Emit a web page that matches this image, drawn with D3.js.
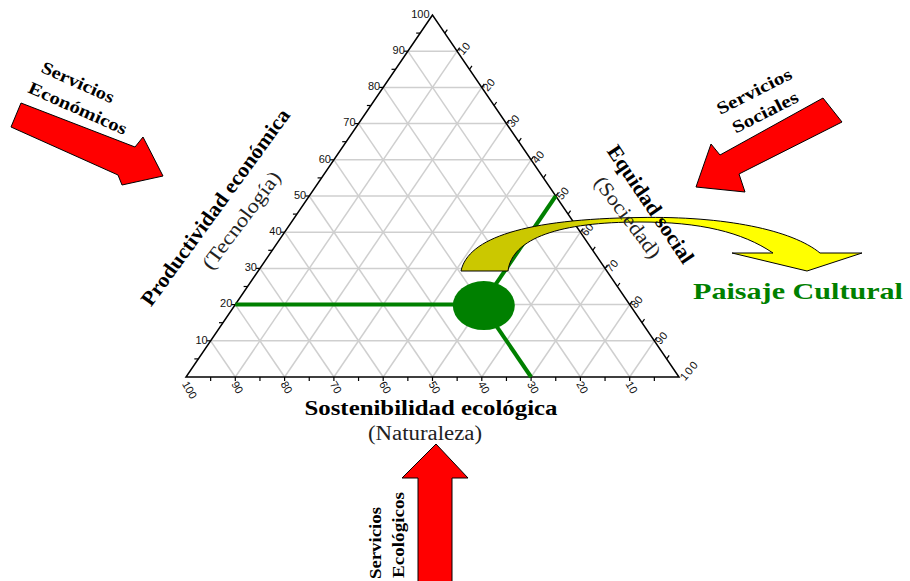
<!DOCTYPE html>
<meta charset="utf-8">
<title>Paisaje Cultural</title>
<style>
body { margin: 0; background: #fff; }
svg { display: block; }
.grid line { stroke: #cfcfcf; stroke-width: 1.5px; }
.edge { fill: none; stroke: #000; stroke-width: 1.5px; }
.tick { stroke: #000; stroke-width: 1.2px; }
.ticklabel { font-family: "Liberation Sans", Arial, sans-serif; font-size: 11px; fill: #111; }
.title { font-family: "Liberation Serif", "Times New Roman", serif; font-weight: bold; font-size: 21px; fill: #000; }
.sub { font-family: "Liberation Serif", "Times New Roman", serif; font-size: 20px; fill: #222; }
.serv { font-family: "Liberation Serif", "Times New Roman", serif; font-weight: bold; font-size: 17.5px; fill: #000; }
.big { font-size: 24px; }
.arrow { fill: #ff0000; stroke: #000; stroke-width: 1px; }
</style>
<body>
<div id="vis"></div>
<script src="https://cdn.jsdelivr.net/npm/d3@7"></script>
<script>

var width = 910,
    height = 581;

// values
var tickValues = [10, 20, 30, 40, 50, 60, 70, 80, 90, 100];
var gridValues = [10, 20, 30, 40, 50, 60, 70, 80, 90];
var axisNames = ["Productividad económica", "Sostenibilidad ecológica", "Equidad social"];
var axisSubs = ["(Tecnología)", "(Naturaleza)", "(Sociedad)"];
var paisaje = { productividad: 20, ecologica: 30, social: 50 };
var paisajeLabel = "Paisaje Cultural";

// ternary -> screen (triangle is stretched horizontally, like the picture)
var xScale = d3.scaleLinear().domain([0, 100]).range([186, 679]);
var yScale = d3.scaleLinear().domain([0, 100]).range([377, 15]);
function proj(p, e, s) { return [xScale(s + p / 2), yScale(p)]; }

var svg = d3.select("#vis").append("svg")
    .attr("width", width)
    .attr("height", height);

// grid
var grid = svg.append("g").attr("class", "grid");
gridValues.forEach(function(v) {
  var segs = [
    [proj(v, 100 - v, 0), proj(v, 0, 100 - v)],
    [proj(0, v, 100 - v), proj(100 - v, v, 0)],
    [proj(0, 100 - v, v), proj(100 - v, 0, v)]
  ];
  segs.forEach(function(s) {
    grid.append("line")
        .attr("x1", s[0][0]).attr("y1", s[0][1])
        .attr("x2", s[1][0]).attr("y2", s[1][1]);
  });
});

// triangle
var corners = [proj(100, 0, 0), proj(0, 100, 0), proj(0, 0, 100)];
svg.append("path")
    .attr("class", "edge")
    .attr("d", "M" + corners.join("L") + "Z");

// small ticks every 5
var minor = d3.range(5, 100, 5);
minor.forEach(function(v) {
  var a = proj(v, 100 - v, 0);
  svg.append("line").attr("class", "tick")
      .attr("x1", a[0]).attr("y1", a[1]).attr("x2", a[0] - 4).attr("y2", a[1]);
  var b = proj(0, v, 100 - v);
  svg.append("line").attr("class", "tick")
      .attr("x1", b[0]).attr("y1", b[1]).attr("x2", b[0]).attr("y2", b[1] + 4);
  var c = proj(100 - v, 0, v);
  svg.append("line").attr("class", "tick")
      .attr("x1", c[0]).attr("y1", c[1]).attr("x2", c[0] + 2.5).attr("y2", c[1] - 3.5);
});

// tick labels
tickValues.forEach(function(v) {
  var a = proj(v, 100 - v, 0);
  svg.append("text").attr("class", "ticklabel")
      .attr("x", a[0] - 3).attr("y", a[1] - 1)
      .attr("dy", "0.35em")
      .attr("text-anchor", "end")
      .text(v);
  var b = proj(0, v, 100 - v);
  svg.append("text").attr("class", "ticklabel")
      .attr("transform", "translate(" + (b[0] - 1) + "," + (b[1] + 5) + ") rotate(60)")
      .attr("dy", "0.35em")
      .text(v);
  var c = proj(100 - v, 0, v);
  svg.append("text").attr("class", "ticklabel")
      .attr("transform", "translate(" + (c[0] + 3) + "," + (c[1] + 2) + ") rotate(-50)")
      .attr("dy", "0.35em")
      .attr("textLength", v == 100 ? 21 : null)
      .text(v);
});

// green guide lines to the point
var pt = proj(paisaje.productividad, paisaje.ecologica, paisaje.social);
var feet = [
  proj(paisaje.productividad, 100 - paisaje.productividad, 0),
  proj(0, paisaje.ecologica, 100 - paisaje.ecologica),
  proj(100 - paisaje.social, 0, paisaje.social)
];
feet.forEach(function(f) {
  svg.append("line")
      .attr("x1", f[0]).attr("y1", f[1])
      .attr("x2", pt[0]).attr("y2", pt[1])
      .style("stroke", "#008000")
      .style("stroke-width", 4);
});
svg.append("ellipse")
    .attr("cx", pt[0] + 2).attr("cy", pt[1] + 1)
    .attr("rx", 31).attr("ry", 24.5)
    .style("fill", "#008000");

// yellow curved arrow
var grad = svg.append("defs").append("linearGradient")
    .attr("id", "yel")
    .attr("gradientUnits", "userSpaceOnUse")
    .attr("x1", 560).attr("y1", 0).attr("x2", 650).attr("y2", 0);
grad.append("stop").attr("offset", 0).attr("stop-color", "#cbc800");
grad.append("stop").attr("offset", 1).attr("stop-color", "#ffff00");

var yp = d3.path();
yp.moveTo(461, 271);
yp.bezierCurveTo(468, 238, 525, 219, 640, 217.5);
yp.bezierCurveTo(725, 216, 792, 230, 820, 253);
yp.lineTo(862, 253);
yp.lineTo(807, 271);
yp.lineTo(732, 253);
yp.lineTo(773, 253);
yp.bezierCurveTo(742, 232, 700, 222, 640, 222);
yp.bezierCurveTo(560, 222, 512, 238, 508, 271);
yp.closePath();
svg.append("path")
    .attr("d", yp.toString())
    .style("fill", "url(#yel)")
    .style("stroke", "#000")
    .style("stroke-width", 1);

// red arrows
var arrows = [
  [[21, 103], [135, 147], [143, 137], [163, 176], [122, 185], [118, 175], [11, 127]],
  [[823, 98], [842, 122], [739, 174], [745, 192], [696, 187], [711, 144], [720, 155]],
  [[436, 444], [468, 478], [452, 478], [452, 590], [418, 590], [418, 478], [402, 478]]
];
svg.selectAll(".arrow")
    .data(arrows)
  .enter().append("path")
    .attr("class", "arrow")
    .attr("d", function(d) { return "M" + d.join("L") + "Z"; });

// rotated text helper
function label(cls, x, y, angle, len, txt, fill) {
  svg.append("text")
      .attr("class", cls)
      .attr("transform", "translate(" + x + "," + y + ") rotate(" + angle + ")")
      .attr("text-anchor", "middle")
      .attr("dy", "0.35em")
      .attr("textLength", len)
      .attr("lengthAdjust", "spacingAndGlyphs")
      .style("fill", fill || null)
      .text(txt);
}

// axis titles
label("title", 215, 207, -54, 238, axisNames[0]);
label("sub", 241, 220, -53, 117, axisSubs[0]);
label("title", 431, 408, 0, 253, axisNames[1]);
label("sub", 425, 433, 0, 114, axisSubs[1]);
label("title", 651, 204, 56, 138, axisNames[2]);
label("sub", 628, 217, 53, 97, axisSubs[2]);

// services labels
label("serv", 78, 82, 24, 78, "Servicios");
label("serv", 78, 108, 24, 106, "Económicos");
label("serv", 754, 91, -27, 82, "Servicios");
label("serv", 765, 112, -27, 72, "Sociales");
label("serv", 375, 543, -90, 72, "Servicios");
label("serv", 398, 535, -90, 86, "Ecológicos");

label("title big", 798, 291, 0, 210, paisajeLabel, "#008000");

</script>
</body>
